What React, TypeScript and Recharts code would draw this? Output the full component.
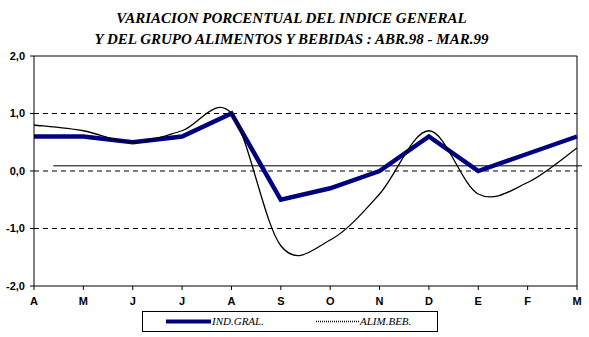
import { CartesianGrid, Line, LineChart, ReferenceLine, XAxis, YAxis } from 'recharts';

const months = ['A', 'M', 'J', 'J', 'A', 'S', 'O', 'N', 'D', 'E', 'F', 'M'];
const indGral = [0.6, 0.6, 0.5, 0.6, 1.0, -0.5, -0.3, 0.0, 0.6, 0.0, 0.3, 0.6];
const alimBeb = [0.8, 0.7, 0.5, 0.7, 1.0, -1.3, -1.2, -0.4, 0.7, -0.4, -0.2, 0.4];
const yTicks = [-2, -1, 0, 1, 2];

const data = months.map((m, i) => ({ i, m, ind: indGral[i], alim: alimBeb[i] }));

// excel style smoothing (catmull-rom through the points)
const excelSmooth: any = (ctx: any) => {
  let pts: number[][] = [];
  return {
    areaStart() {},
    areaEnd() {},
    lineStart() {
      pts = [];
    },
    lineEnd() {
      if (!pts.length) return;
      ctx.moveTo(pts[0][0], pts[0][1]);
      for (let k = 0; k < pts.length - 1; k++) {
        const p0 = pts[Math.max(k - 1, 0)];
        const p1 = pts[k];
        const p2 = pts[k + 1];
        const p3 = pts[Math.min(k + 2, pts.length - 1)];
        ctx.bezierCurveTo(
          p1[0] + (p2[0] - p0[0]) / 6,
          p1[1] + (p2[1] - p0[1]) / 6,
          p2[0] - (p3[0] - p1[0]) / 6,
          p2[1] - (p3[1] - p1[1]) / 6,
          p2[0],
          p2[1]
        );
      }
    },
    point(x: number, y: number) {
      pts.push([x, y]);
    },
  };
};

const axisFont = { fill: '#000', fontSize: 11, fontWeight: 700, fontFamily: 'Liberation Sans, Arial, sans-serif' };

export default function App() {
  return (
    <div style={{ position: 'absolute', left: 0, top: 0, width: 589, height: 337, background: '#fff' }}>
      <div
        style={{
          position: 'absolute',
          left: 0,
          top: 8,
          width: 589,
          textAlign: 'center',
          fontFamily: 'Liberation Serif, Times New Roman, serif',
          fontStyle: 'italic',
          fontWeight: 700,
          fontSize: 15,
          lineHeight: '21px',
        }}
      >
        <div style={{ marginLeft: -6 }}>VARIACION PORCENTUAL DEL INDICE GENERAL</div>
        <div style={{ marginLeft: -6 }}>Y DEL GRUPO ALIMENTOS Y BEBIDAS : ABR.98 - MAR.99</div>
      </div>

      <LineChart
        width={589}
        height={337}
        data={data}
        margin={{ top: 56, right: 12, left: 0, bottom: 0 }}
        style={{ position: 'absolute', left: 0, top: 0 }}
      >
        <CartesianGrid
          vertical={false}
          horizontalValues={[-1, 0, 1]}
          stroke="#000"
          strokeDasharray="5 4"
        />
        <XAxis
          dataKey="i"
          type="number"
          domain={[0, 11]}
          ticks={months.map((_, i) => i)}
          tickFormatter={(v) => months[v]}
          interval={0}
          tick={axisFont}
          tickSize={4}
          tickMargin={7}
          height={51}
          axisLine={{ stroke: '#000' }}
          tickLine={{ stroke: '#000' }}
        />
        <YAxis
          domain={[-2, 2]}
          ticks={yTicks}
          tickFormatter={(v) => v.toFixed(1).replace('.', ',')}
          tick={axisFont}
          tickSize={4}
          tickMargin={5}
          width={34}
          axisLine={{ stroke: '#000' }}
          tickLine={{ stroke: '#000' }}
        />
        <ReferenceLine y={2} stroke="#000" />
        <ReferenceLine x={11} stroke="#000" />
        <ReferenceLine
          segment={[
            { x: 0.39, y: 0.09 },
            { x: 11.1, y: 0.09 },
          ]}
          stroke="#000"
          ifOverflow="visible"
        />
        <Line
          dataKey="ind"
          type="linear"
          stroke="#000080"
          strokeWidth={4.5}
          dot={false}
          isAnimationActive={false}
        />
        <Line
          dataKey="alim"
          type={excelSmooth}
          stroke="#000"
          strokeWidth={1.3}
          dot={false}
          isAnimationActive={false}
        />
      </LineChart>

      {/* legend */}
      <div
        style={{
          position: 'absolute',
          left: 142,
          top: 311,
          width: 294,
          height: 19,
          border: '1px solid #000',
          fontFamily: 'Liberation Serif, Times New Roman, serif',
          fontStyle: 'italic',
          fontSize: 11,
        }}
      >
        <svg width={294} height={19} style={{ position: 'absolute', left: 0, top: 0 }}>
          <line x1={23} x2={68} y1={9.5} y2={9.5} stroke="#000080" strokeWidth={4} />
          <line x1={173} x2={216} y1={9.5} y2={9.5} stroke="#000" strokeWidth={1.3} strokeDasharray="1 1" />
          <text x={69} y={13} fontSize={11}>IND.GRAL.</text>
          <text x={217} y={13} fontSize={11}>ALIM.BEB.</text>
        </svg>
      </div>
    </div>
  );
}
